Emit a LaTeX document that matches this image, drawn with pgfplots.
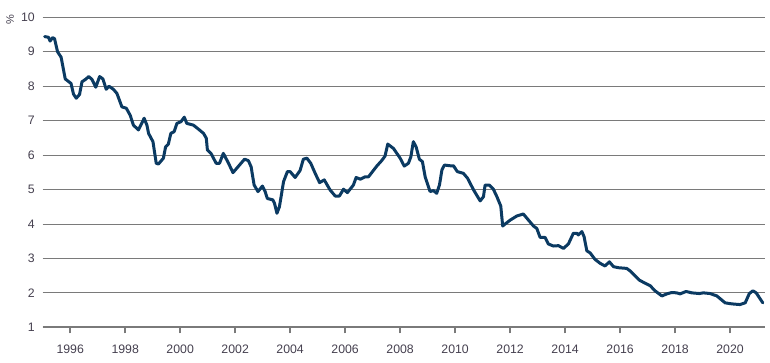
\documentclass[border=0pt]{standalone}
\usepackage{fontspec}
\setmainfont{Liberation Sans}
\usepackage{pgfplots}
\pgfplotsset{compat=1.18}
\definecolor{navy}{HTML}{0B3A62}
\definecolor{gridc}{HTML}{7A7A7A}
\definecolor{labc}{HTML}{45404F}
\begin{document}
\begin{tikzpicture}
\useasboundingbox (-42.7bp,-35.7bp) rectangle (727.3bp,327.3bp);
\begin{axis}[
  scale only axis,
  width=722.3bp, height=310bp,
  xmin=1995.0, xmax=2021.27,
  ymin=1, ymax=10,
  xtick={1996,1998,...,2020},
  ytick={1,2,...,10},
  xticklabel style={/pgf/number format/1000 sep={}, yshift=-8bp},
  yticklabel style={xshift=1.5bp},
  /pgf/number format/assume math mode=true,
  axis x line*=bottom,
  axis y line*=left,
  y axis line style={draw=none},
  x axis line style={-, draw=gridc, line width=2bp},
  ymajorgrids,
  major grid style={draw=gridc, line width=0.9bp},
  tick align=outside,
  major tick length=6bp,
  xtick style={draw=gridc, line width=1.5bp},
  ytick style={draw=none},
  ticklabel style={font=\fontsize{12.3bp}{14bp}\selectfont, text=labc},
  clip=false,
]
\addplot[navy, line width=3bp, line join=round, line cap=round] coordinates {
(1995.07,9.44)(1995.21,9.42)(1995.27,9.31)(1995.36,9.41)(1995.43,9.38)(1995.54,9.00)(1995.67,8.84)(1995.82,8.21)
(1996.03,8.08)(1996.12,7.77)(1996.22,7.65)(1996.34,7.76)(1996.43,8.13)(1996.58,8.21)(1996.67,8.28)(1996.79,8.20)(1996.93,7.97)
(1997.07,8.28)(1997.19,8.21)(1997.31,7.91)(1997.41,8.00)(1997.57,7.91)(1997.70,7.79)(1997.88,7.40)
(1998.04,7.36)(1998.18,7.16)(1998.30,6.87)(1998.48,6.73)(1998.57,6.87)(1998.69,7.07)(1998.79,6.87)(1998.85,6.63)
(1999.01,6.39)(1999.13,5.76)(1999.21,5.74)(1999.39,5.91)(1999.47,6.24)(1999.57,6.32)(1999.66,6.63)(1999.78,6.68)(1999.88,6.92)
(2000.03,6.97)(2000.15,7.10)(2000.24,6.92)(2000.48,6.87)(2000.67,6.75)(2000.85,6.63)(2000.95,6.49)(2000.99,6.15)
(2001.12,6.05)(2001.31,5.76)(2001.43,5.76)(2001.57,6.05)(2001.76,5.76)(2001.92,5.49)
(2002.06,5.62)(2002.34,5.88)(2002.48,5.84)(2002.58,5.66)(2002.69,5.13)(2002.83,4.94)(2002.99,5.10)
(2003.09,4.94)(2003.17,4.74)(2003.37,4.70)(2003.43,4.60)(2003.52,4.31)(2003.61,4.50)(2003.76,5.23)(2003.90,5.52)
(2004.00,5.52)(2004.18,5.35)(2004.36,5.55)(2004.48,5.88)(2004.61,5.91)(2004.75,5.76)(2004.91,5.47)
(2005.07,5.20)(2005.24,5.28)(2005.45,4.99)(2005.64,4.81)(2005.79,4.81)(2005.94,5.01)
(2006.08,4.91)(2006.30,5.13)(2006.40,5.35)(2006.55,5.30)(2006.73,5.37)(2006.85,5.37)
(2007.15,5.68)(2007.33,5.84)(2007.45,5.97)(2007.55,6.32)(2007.76,6.19)
(2008.00,5.91)(2008.15,5.68)(2008.30,5.76)(2008.39,5.95)(2008.48,6.39)(2008.58,6.24)(2008.70,5.88)(2008.81,5.81)(2008.91,5.37)
(2009.09,4.94)(2009.21,4.97)(2009.33,4.89)(2009.43,5.13)(2009.52,5.57)(2009.61,5.71)(2009.82,5.69)(2009.94,5.69)
(2010.08,5.52)(2010.30,5.47)(2010.45,5.33)(2010.67,4.99)(2010.91,4.67)
(2011.03,4.79)(2011.09,5.13)(2011.24,5.13)(2011.39,5.01)(2011.52,4.79)(2011.66,4.52)(2011.73,3.94)(2011.82,4.00)
(2012.00,4.11)(2012.24,4.23)(2012.48,4.29)(2012.67,4.11)(2012.85,3.94)(2012.97,3.87)
(2013.09,3.61)(2013.27,3.61)(2013.39,3.42)(2013.57,3.36)(2013.76,3.37)(2013.94,3.29)
(2014.12,3.42)(2014.30,3.73)(2014.43,3.73)(2014.48,3.68)(2014.61,3.78)(2014.69,3.63)(2014.79,3.22)(2014.91,3.16)
(2015.09,2.97)(2015.27,2.86)(2015.45,2.78)(2015.61,2.90)(2015.76,2.76)(2015.94,2.73)
(2016.24,2.71)(2016.36,2.64)(2016.70,2.37)(2016.91,2.28)
(2017.09,2.21)(2017.27,2.06)(2017.52,1.91)(2017.70,1.97)(2017.88,2.01)
(2018.06,2.00)(2018.18,1.97)(2018.40,2.04)(2018.61,2.00)(2018.88,1.98)
(2019.03,2.00)(2019.27,1.98)(2019.52,1.91)(2019.82,1.71)
(2020.06,1.68)(2020.36,1.66)(2020.55,1.71)(2020.70,1.98)(2020.83,2.06)(2020.95,2.00)(2021.19,1.71)
};
\node[rotate=90, inner sep=0pt, text=labc, font=\fontsize{11bp}{13bp}\selectfont] at ([xshift=-32.7bp, yshift=-2.3bp]rel axis cs:0,1) {\%};
\end{axis}
\end{tikzpicture}
\end{document}
